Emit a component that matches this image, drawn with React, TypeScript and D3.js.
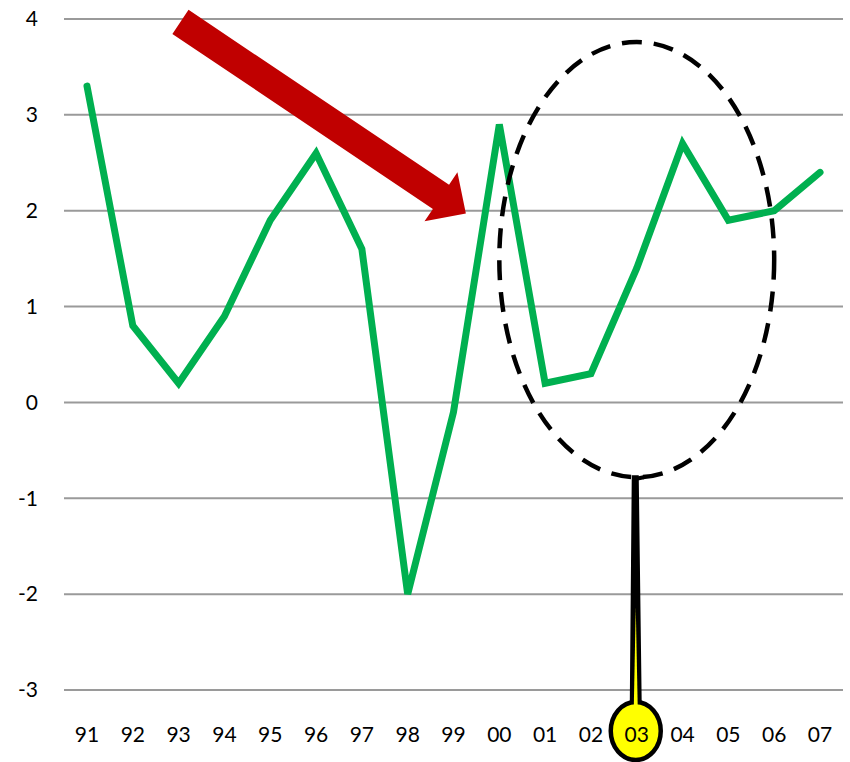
import React from "react";
import * as d3 from "d3";

const years = ["91","92","93","94","95","96","97","98","99","00","01","02","03","04","05","06","07"];
const values = [3.3, 0.8, 0.2, 0.9, 1.9, 2.6, 1.6, -2.0, -0.1, 2.9, 0.2, 0.3, 1.4, 2.7, 1.9, 2.0, 2.4];
const yTicks = [-3, -2, -1, 0, 1, 2, 3, 4];
// annotations in data space (index, value)
const arrowFrom = [2.04, 3.97];
const arrowTo = [8.27, 1.97];
const ellipseCenter = [12, 1.49];
const ellipseRadius = [3, 2.27];
const calloutIndex = 12;

const W = 850, H = 762;
const FONT = "Lato, 'Open Sans', sans-serif";

export default function App() {
  const x = d3.scaleLinear().domain([0, years.length - 1]).range([87, 820]);
  const y = d3.scaleLinear().domain([-3, 4]).range([690, 19]);
  const line = d3.line<number>().x((_, i) => x(i)).y((d) => y(d));

  const ax0 = x(arrowFrom[0]), ay0 = y(arrowFrom[1]);
  const ax1 = x(arrowTo[0]), ay1 = y(arrowTo[1]);
  const len = Math.hypot(ax1 - ax0, ay1 - ay0);
  const ang = (Math.atan2(ay1 - ay0, ax1 - ax0) * 180) / Math.PI;
  const sw = 14.5, hw = 29.5, hl = 30;
  const arrowPts = [
    [0, -sw], [len - hl, -sw], [len - hl, -hw], [len, 0], [len - hl, hw], [len - hl, sw], [0, sw],
  ].map((p) => p.join(",")).join(" ");

  const ecx = x(ellipseCenter[0]), ecy = y(ellipseCenter[1]);
  const erx = x(ellipseRadius[0]) - x(0), ery = y(0) - y(ellipseRadius[1]);

  const cx = x(calloutIndex) - 1;
  const circY = 731;
  const tailTop = ecy + ery;
  const tailBot = circY - 24;
  const wedge = `M${cx - 2},${tailTop} L${cx + 1},${tailTop} L${cx + 4},${tailBot} L${cx - 4},${tailBot} Z`;
  const yMid = tailTop + 130;
  const inner = `M${cx},${yMid} L${cx + 2},${tailBot + 2} L${cx - 2},${tailBot + 2} Z`;

  return (
    <svg width={W} height={H} style={{ position: "absolute", left: 0, top: 0, background: "#fff" }}>
      {yTicks.map((t) => (
        <g key={t}>
          <line x1={64} x2={843} y1={y(t)} y2={y(t)} stroke="#9a9a9a" strokeWidth={2} />
          <text x={38} y={y(t)} dy="0.35em" textAnchor="end" fontFamily={FONT} fontSize={21} fill="#000">
            {t}
          </text>
        </g>
      ))}
      <path d={line(values) || ""} fill="none" stroke="#00B050" strokeWidth={7} strokeLinejoin="miter" strokeLinecap="round" />
      <ellipse cx={ecx} cy={ecy} rx={erx} ry={ery} fill="none" stroke="#000" strokeWidth={4.5} strokeDasharray="20,12" />
      {/* callout */}
      <path d={wedge} fill="#000" stroke="#000" strokeWidth={4} strokeLinejoin="miter" />
      <ellipse cx={cx} cy={circY} rx={25} ry={29} fill="#FFFF00" stroke="#000" strokeWidth={4.5} />
      <rect x={cx - 4} y={tailBot - 2} width={8} height={10} fill="#FFFF00" />
      <path d={inner} fill="#FFFF00" />
      <path d={`M${cx - 2},${tailTop + 2} L${cx + 8},${tailTop}`} stroke="#000" strokeWidth={4} />
      {years.map((yr, i) => (
        <text key={yr} x={x(i)} y={742} textAnchor="middle" fontFamily={FONT} fontSize={21} fill="#000">
          {yr}
        </text>
      ))}
      <polygon points={arrowPts} fill="#C00000" transform={`translate(${ax0},${ay0}) rotate(${ang})`} />
    </svg>
  );
}
